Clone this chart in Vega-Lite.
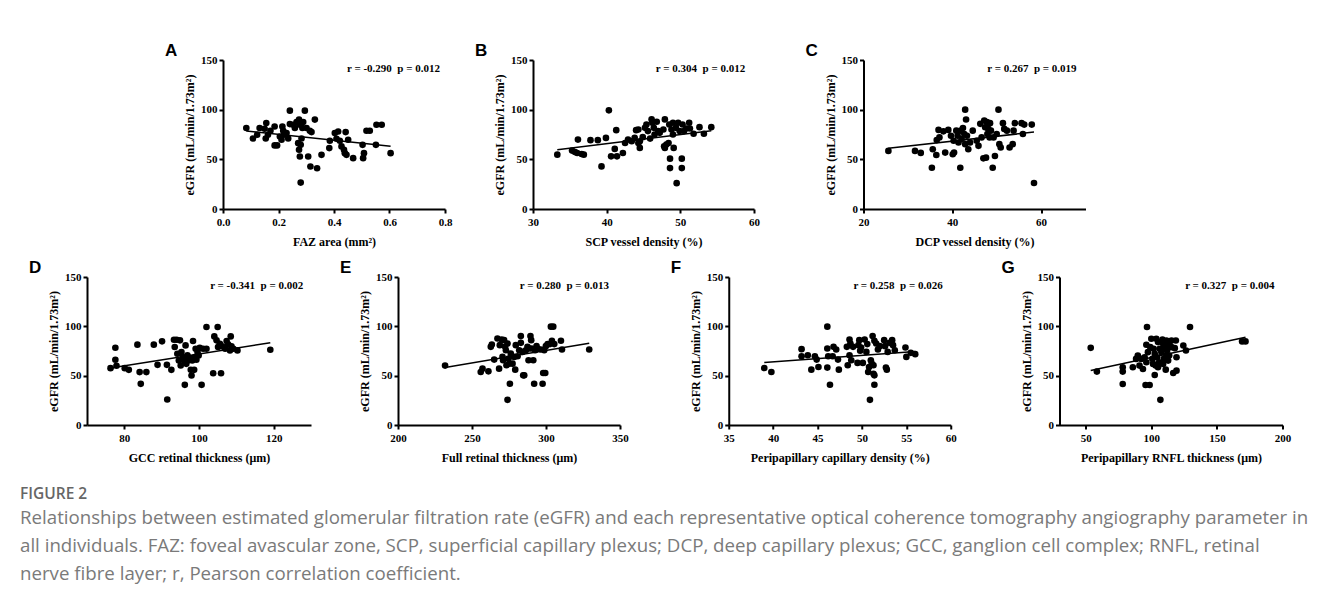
{
 "$schema": "https://vega.github.io/schema/vega-lite/v6.json",
 "autosize": {"type": "pad"},
 "padding": {"left": 20, "top": 42, "right": 5, "bottom": 5},
 "background": "white",
 "datasets": {
  "A": [{"x":0.084,"eGFR":81.5},{"x":0.108,"eGFR":71},{"x":0.123,"eGFR":74.7},{"x":0.132,"eGFR":81.5},{"x":0.150,"eGFR":80.8},{"x":0.156,"eGFR":86.5},{"x":0.154,"eGFR":71},{"x":0.162,"eGFR":74.7},{"x":0.171,"eGFR":78.8},{"x":0.186,"eGFR":83},{"x":0.186,"eGFR":64},{"x":0.195,"eGFR":64},{"x":0.205,"eGFR":73},{"x":0.211,"eGFR":69.7},{"x":0.214,"eGFR":83},{"x":0.217,"eGFR":78.8},{"x":0.220,"eGFR":74.7},{"x":0.229,"eGFR":76.4},{"x":0.235,"eGFR":71},{"x":0.241,"eGFR":85.5},{"x":0.241,"eGFR":99},{"x":0.253,"eGFR":84.8},{"x":0.259,"eGFR":81.5},{"x":0.265,"eGFR":87.5},{"x":0.274,"eGFR":90},{"x":0.277,"eGFR":84.8},{"x":0.271,"eGFR":66.3},{"x":0.274,"eGFR":59.6},{"x":0.277,"eGFR":52.9},{"x":0.280,"eGFR":64.6},{"x":0.283,"eGFR":71},{"x":0.286,"eGFR":81.5},{"x":0.289,"eGFR":87.5},{"x":0.280,"eGFR":26.6},{"x":0.295,"eGFR":99},{"x":0.301,"eGFR":81.5},{"x":0.307,"eGFR":52.9},{"x":0.313,"eGFR":78.8},{"x":0.319,"eGFR":77.4},{"x":0.315,"eGFR":42.8},{"x":0.331,"eGFR":90},{"x":0.339,"eGFR":41},{"x":0.355,"eGFR":54.5},{"x":0.383,"eGFR":61.3},{"x":0.385,"eGFR":68.7},{"x":0.403,"eGFR":76.4},{"x":0.409,"eGFR":70.7},{"x":0.415,"eGFR":78},{"x":0.421,"eGFR":68.7},{"x":0.427,"eGFR":63},{"x":0.436,"eGFR":59.6},{"x":0.439,"eGFR":56.2},{"x":0.442,"eGFR":77.4},{"x":0.445,"eGFR":54.5},{"x":0.451,"eGFR":69.7},{"x":0.469,"eGFR":51.2},{"x":0.503,"eGFR":64.6},{"x":0.505,"eGFR":51.2},{"x":0.508,"eGFR":56.2},{"x":0.517,"eGFR":78.8},{"x":0.529,"eGFR":78.8},{"x":0.551,"eGFR":64.6},{"x":0.553,"eGFR":84.8},{"x":0.572,"eGFR":84.8},{"x":0.604,"eGFR":56.2}],
  "B": [{"x":33.3,"eGFR":54.7},{"x":35.3,"eGFR":58.8},{"x":35.7,"eGFR":57.4},{"x":36.0,"eGFR":56.4},{"x":36.1,"eGFR":69.9},{"x":36.6,"eGFR":55.4},{"x":36.9,"eGFR":54.7},{"x":37.8,"eGFR":69.3},{"x":38.8,"eGFR":69.3},{"x":39.3,"eGFR":42.9},{"x":39.9,"eGFR":71.6},{"x":40.3,"eGFR":99.3},{"x":40.6,"eGFR":53},{"x":41.1,"eGFR":60.5},{"x":41.3,"eGFR":79.4},{"x":41.4,"eGFR":53},{"x":42.2,"eGFR":56.4},{"x":42.5,"eGFR":66.5},{"x":42.9,"eGFR":69.9},{"x":43.4,"eGFR":68.2},{"x":43.8,"eGFR":71.6},{"x":44.0,"eGFR":79.4},{"x":44.3,"eGFR":80},{"x":44.3,"eGFR":66.5},{"x":44.5,"eGFR":61.5},{"x":44.5,"eGFR":68.2},{"x":44.9,"eGFR":72.3},{"x":45.2,"eGFR":81.7},{"x":45.4,"eGFR":85.1},{"x":45.6,"eGFR":78.4},{"x":45.9,"eGFR":70.9},{"x":46.1,"eGFR":90.2},{"x":46.2,"eGFR":86.8},{"x":46.4,"eGFR":81.7},{"x":46.5,"eGFR":75},{"x":46.8,"eGFR":87.8},{"x":47.0,"eGFR":78.4},{"x":47.2,"eGFR":76.7},{"x":47.7,"eGFR":80},{"x":47.8,"eGFR":63.2},{"x":47.9,"eGFR":90.2},{"x":47.9,"eGFR":61.5},{"x":48.1,"eGFR":64.9},{"x":48.4,"eGFR":66.5},{"x":48.5,"eGFR":85.1},{"x":48.6,"eGFR":50.7},{"x":48.6,"eGFR":41.2},{"x":48.8,"eGFR":80},{"x":49.0,"eGFR":75},{"x":49.0,"eGFR":86.8},{"x":49.1,"eGFR":61.5},{"x":49.4,"eGFR":81.7},{"x":49.5,"eGFR":26},{"x":49.7,"eGFR":86.8},{"x":49.9,"eGFR":78.4},{"x":50.2,"eGFR":50.7},{"x":50.2,"eGFR":41.2},{"x":50.3,"eGFR":85.1},{"x":50.5,"eGFR":78.4},{"x":50.8,"eGFR":81},{"x":51.2,"eGFR":86.8},{"x":51.3,"eGFR":81},{"x":51.8,"eGFR":75.7},{"x":52.6,"eGFR":82.4},{"x":53.2,"eGFR":75.7},{"x":54.2,"eGFR":82.4}],
  "C": [{"x":25.6,"eGFR":58.5},{"x":31.6,"eGFR":58.5},{"x":32.9,"eGFR":56.5},{"x":35.4,"eGFR":41.5},{"x":35.6,"eGFR":60.2},{"x":36.4,"eGFR":54.4},{"x":36.5,"eGFR":69.4},{"x":36.9,"eGFR":79.6},{"x":37.1,"eGFR":72.1},{"x":38.0,"eGFR":78.2},{"x":38.4,"eGFR":56.8},{"x":39.1,"eGFR":79.6},{"x":39.7,"eGFR":73.8},{"x":40.1,"eGFR":55.1},{"x":40.3,"eGFR":68.7},{"x":40.4,"eGFR":56.8},{"x":40.9,"eGFR":78.9},{"x":41.2,"eGFR":73.8},{"x":41.4,"eGFR":67},{"x":41.8,"eGFR":41.5},{"x":41.9,"eGFR":78.9},{"x":42.1,"eGFR":70.4},{"x":42.4,"eGFR":81.6},{"x":42.7,"eGFR":75.5},{"x":42.9,"eGFR":100},{"x":42.9,"eGFR":65.3},{"x":43.1,"eGFR":90.1},{"x":43.3,"eGFR":73.8},{"x":43.6,"eGFR":60.2},{"x":44.0,"eGFR":67},{"x":44.6,"eGFR":78.9},{"x":45.5,"eGFR":68.7},{"x":45.9,"eGFR":63.6},{"x":46.3,"eGFR":85.7},{"x":46.6,"eGFR":72.1},{"x":47.0,"eGFR":51},{"x":47.2,"eGFR":89.1},{"x":47.4,"eGFR":82.3},{"x":47.6,"eGFR":51.7},{"x":47.8,"eGFR":87.4},{"x":47.9,"eGFR":75.5},{"x":48.1,"eGFR":80.6},{"x":48.4,"eGFR":72.1},{"x":48.5,"eGFR":86.4},{"x":48.7,"eGFR":78.9},{"x":49.1,"eGFR":41.5},{"x":49.3,"eGFR":72.1},{"x":49.6,"eGFR":53.4},{"x":50.0,"eGFR":75.5},{"x":50.4,"eGFR":100},{"x":50.6,"eGFR":65.3},{"x":50.9,"eGFR":61.9},{"x":51.4,"eGFR":86.4},{"x":51.7,"eGFR":80.6},{"x":52.3,"eGFR":78.9},{"x":52.9,"eGFR":61.9},{"x":53.6,"eGFR":65.3},{"x":53.8,"eGFR":78.9},{"x":54.1,"eGFR":86.4},{"x":55.6,"eGFR":86.4},{"x":55.9,"eGFR":75.5},{"x":56.2,"eGFR":85},{"x":57.9,"eGFR":85},{"x":58.4,"eGFR":26.2}],
  "D": [{"x":76.3,"eGFR":57.6},{"x":77.6,"eGFR":78.3},{"x":77.6,"eGFR":66.1},{"x":77.9,"eGFR":60},{"x":80.1,"eGFR":57.6},{"x":81.2,"eGFR":55.9},{"x":83.5,"eGFR":81.4},{"x":84.1,"eGFR":53.6},{"x":84.4,"eGFR":41.7},{"x":85.9,"eGFR":53.6},{"x":87.9,"eGFR":81.4},{"x":88.9,"eGFR":61},{"x":90.1,"eGFR":84.8},{"x":91.4,"eGFR":61},{"x":91.5,"eGFR":25.8},{"x":92.6,"eGFR":55.9},{"x":93.3,"eGFR":86.4},{"x":93.5,"eGFR":79},{"x":94.0,"eGFR":86.4},{"x":94.2,"eGFR":72.2},{"x":94.6,"eGFR":65.4},{"x":94.9,"eGFR":85.8},{"x":95.1,"eGFR":60.3},{"x":95.3,"eGFR":73.9},{"x":95.7,"eGFR":68.8},{"x":96.0,"eGFR":65.4},{"x":96.2,"eGFR":40.7},{"x":96.4,"eGFR":80.7},{"x":96.6,"eGFR":62},{"x":96.9,"eGFR":70.5},{"x":97.1,"eGFR":65.4},{"x":97.5,"eGFR":68.1},{"x":97.8,"eGFR":55.9},{"x":98.0,"eGFR":50.2},{"x":98.2,"eGFR":65.4},{"x":98.4,"eGFR":85.1},{"x":98.7,"eGFR":55.9},{"x":98.9,"eGFR":68.8},{"x":99.1,"eGFR":77.3},{"x":99.3,"eGFR":66.1},{"x":99.6,"eGFR":73.9},{"x":99.9,"eGFR":70.5},{"x":100.2,"eGFR":78.3},{"x":100.7,"eGFR":40.7},{"x":101.1,"eGFR":77.3},{"x":102.0,"eGFR":99.3},{"x":102.0,"eGFR":77.3},{"x":103.8,"eGFR":52.5},{"x":104.1,"eGFR":89.8},{"x":104.7,"eGFR":85.8},{"x":105.0,"eGFR":99.3},{"x":105.1,"eGFR":79},{"x":105.6,"eGFR":82.4},{"x":105.9,"eGFR":52.5},{"x":106.2,"eGFR":79.7},{"x":107.0,"eGFR":77.3},{"x":107.4,"eGFR":85.1},{"x":107.8,"eGFR":81.7},{"x":108.3,"eGFR":75.6},{"x":108.5,"eGFR":89.8},{"x":108.7,"eGFR":79.7},{"x":109.2,"eGFR":77.3},{"x":110.3,"eGFR":75.6},{"x":119.1,"eGFR":76.3}],
  "E": [{"x":231.8,"eGFR":60.2},{"x":255.9,"eGFR":53.7},{"x":257.1,"eGFR":57.1},{"x":261.1,"eGFR":54.4},{"x":262.7,"eGFR":79.2},{"x":263.4,"eGFR":81.6},{"x":265.0,"eGFR":66.3},{"x":267.2,"eGFR":87.7},{"x":268.3,"eGFR":57.1},{"x":268.8,"eGFR":80.9},{"x":270.1,"eGFR":86.7},{"x":270.6,"eGFR":69},{"x":271.0,"eGFR":65.6},{"x":271.7,"eGFR":86},{"x":272.4,"eGFR":79.2},{"x":272.9,"eGFR":75.8},{"x":273.3,"eGFR":60.5},{"x":274.0,"eGFR":25.5},{"x":274.0,"eGFR":82.6},{"x":274.7,"eGFR":67.3},{"x":275.1,"eGFR":62.2},{"x":275.6,"eGFR":41.8},{"x":276.2,"eGFR":72.4},{"x":277.4,"eGFR":62.2},{"x":278.5,"eGFR":69},{"x":279.2,"eGFR":56.1},{"x":279.6,"eGFR":80.9},{"x":280.8,"eGFR":69.7},{"x":281.9,"eGFR":75.8},{"x":283.0,"eGFR":90.1},{"x":283.0,"eGFR":83.3},{"x":284.1,"eGFR":74.1},{"x":284.6,"eGFR":50.3},{"x":285.3,"eGFR":50.3},{"x":286.4,"eGFR":75.8},{"x":287.5,"eGFR":79.2},{"x":288.2,"eGFR":65.6},{"x":288.6,"eGFR":77.5},{"x":289.5,"eGFR":90.1},{"x":290.0,"eGFR":86},{"x":290.4,"eGFR":77.5},{"x":291.4,"eGFR":65.6},{"x":292.0,"eGFR":41.8},{"x":292.7,"eGFR":75.8},{"x":293.6,"eGFR":79.9},{"x":294.3,"eGFR":77.5},{"x":296.5,"eGFR":76.5},{"x":297.7,"eGFR":41.8},{"x":298.1,"eGFR":52.7},{"x":298.8,"eGFR":75.8},{"x":299.5,"eGFR":52.7},{"x":299.9,"eGFR":79.9},{"x":301.1,"eGFR":82},{"x":302.6,"eGFR":82},{"x":303.3,"eGFR":99.7},{"x":304.0,"eGFR":85.4},{"x":304.9,"eGFR":99.7},{"x":305.6,"eGFR":82},{"x":310.1,"eGFR":85.4},{"x":310.8,"eGFR":76.5},{"x":329.2,"eGFR":76.5}],
  "F": [{"x":39.0,"eGFR":57.8},{"x":39.8,"eGFR":53.7},{"x":43.2,"eGFR":76.9},{"x":43.2,"eGFR":69.7},{"x":43.9,"eGFR":70.7},{"x":44.3,"eGFR":56.1},{"x":44.7,"eGFR":69.7},{"x":44.9,"eGFR":66.3},{"x":45.1,"eGFR":58.8},{"x":46.1,"eGFR":99.7},{"x":46.1,"eGFR":77.5},{"x":46.1,"eGFR":58.2},{"x":46.2,"eGFR":69.7},{"x":46.4,"eGFR":40.8},{"x":46.7,"eGFR":69.7},{"x":46.8,"eGFR":79.2},{"x":47.1,"eGFR":76.5},{"x":47.3,"eGFR":66.3},{"x":47.4,"eGFR":56.1},{"x":48.3,"eGFR":79.2},{"x":48.4,"eGFR":60.5},{"x":48.6,"eGFR":70.7},{"x":48.6,"eGFR":86.7},{"x":48.7,"eGFR":82.6},{"x":48.8,"eGFR":65.6},{"x":49.0,"eGFR":79.2},{"x":49.5,"eGFR":62.9},{"x":49.6,"eGFR":80.9},{"x":49.7,"eGFR":86},{"x":49.8,"eGFR":75.2},{"x":49.9,"eGFR":78.6},{"x":50.1,"eGFR":62.9},{"x":50.3,"eGFR":86.7},{"x":50.5,"eGFR":74.1},{"x":50.6,"eGFR":82},{"x":50.7,"eGFR":53.7},{"x":50.8,"eGFR":58.8},{"x":50.9,"eGFR":25.5},{"x":51.0,"eGFR":65.6},{"x":51.1,"eGFR":62.2},{"x":51.2,"eGFR":90.1},{"x":51.3,"eGFR":52},{"x":51.3,"eGFR":60.5},{"x":51.4,"eGFR":85.4},{"x":51.4,"eGFR":40.8},{"x":51.4,"eGFR":50.3},{"x":51.6,"eGFR":82.6},{"x":51.8,"eGFR":76.5},{"x":52.0,"eGFR":79.9},{"x":52.5,"eGFR":86},{"x":52.6,"eGFR":79.9},{"x":52.7,"eGFR":58.2},{"x":52.8,"eGFR":56.1},{"x":52.9,"eGFR":74.1},{"x":53.1,"eGFR":83.3},{"x":53.4,"eGFR":86},{"x":53.5,"eGFR":80.9},{"x":53.7,"eGFR":75.8},{"x":54.9,"eGFR":78.6},{"x":55.0,"eGFR":69},{"x":55.5,"eGFR":73.1},{"x":56.0,"eGFR":71.8}],
  "G": [{"x":53.8,"eGFR":78.2},{"x":58.5,"eGFR":54.1},{"x":78.2,"eGFR":58.5},{"x":78.2,"eGFR":54.1},{"x":78.2,"eGFR":41.5},{"x":85.9,"eGFR":58.5},{"x":88.4,"eGFR":67},{"x":89.7,"eGFR":70.4},{"x":91.0,"eGFR":60.2},{"x":92.3,"eGFR":67},{"x":93.6,"eGFR":56.8},{"x":94.9,"eGFR":68.7},{"x":95.6,"eGFR":40.5},{"x":96.2,"eGFR":81.3},{"x":96.2,"eGFR":63.6},{"x":96.7,"eGFR":99.3},{"x":97.4,"eGFR":73.8},{"x":98.7,"eGFR":40.5},{"x":99.2,"eGFR":78.9},{"x":100.0,"eGFR":87.4},{"x":100.8,"eGFR":67},{"x":101.3,"eGFR":61.9},{"x":101.8,"eGFR":77.2},{"x":102.6,"eGFR":50.7},{"x":102.6,"eGFR":72.1},{"x":103.3,"eGFR":60.2},{"x":103.8,"eGFR":87.4},{"x":104.4,"eGFR":68.7},{"x":105.1,"eGFR":84},{"x":105.1,"eGFR":58.5},{"x":105.9,"eGFR":63.6},{"x":106.4,"eGFR":77.2},{"x":106.9,"eGFR":25.5},{"x":107.7,"eGFR":73.8},{"x":108.5,"eGFR":86.7},{"x":109.0,"eGFR":82.3},{"x":109.0,"eGFR":61.9},{"x":109.5,"eGFR":67},{"x":110.3,"eGFR":78.9},{"x":111.0,"eGFR":56.1},{"x":111.5,"eGFR":85.7},{"x":111.5,"eGFR":70.4},{"x":112.0,"eGFR":75.5},{"x":112.8,"eGFR":80.6},{"x":112.8,"eGFR":65.3},{"x":113.6,"eGFR":70.4},{"x":114.1,"eGFR":84.7},{"x":115.4,"eGFR":78.9},{"x":115.4,"eGFR":85.7},{"x":116.7,"eGFR":52.7},{"x":117.9,"eGFR":77.9},{"x":118.7,"eGFR":85.7},{"x":119.2,"eGFR":68.7},{"x":119.2,"eGFR":55.1},{"x":124.4,"eGFR":80.6},{"x":126.4,"eGFR":75.5},{"x":129.5,"eGFR":99.3},{"x":169.2,"eGFR":84.7},{"x":171.8,"eGFR":84.7}]
 },
 "title": {
  "text": "FIGURE 2",
  "subtitle": [
   "Relationships between estimated glomerular filtration rate (eGFR) and each representative optical coherence tomography angiography parameter in",
   "all individuals. FAZ: foveal avascular zone, SCP, superficial capillary plexus; DCP, deep capillary plexus; GCC, ganglion cell complex; RNFL, retinal",
   "nerve fibre layer; r, Pearson correlation coefficient."
  ],
  "orient": "bottom",
  "anchor": "start",
  "frame": "bounds",
  "dx": -9,
  "offset": 24,
  "font": "Open Sans",
  "fontSize": 15.5,
  "fontWeight": 600,
  "color": "#666666",
  "subtitleFont": "Open Sans",
  "subtitleFontSize": 18.7,
  "subtitleFontWeight": "normal",
  "subtitleColor": "#7a7a7a",
  "subtitleLineHeight": 28,
  "subtitlePadding": 6
 },
 "config": {
  "view": {"stroke": null},
  "axis": {
   "grid": false,
   "domainColor": "black",
   "domainWidth": 2,
   "tickColor": "black",
   "tickWidth": 2,
   "tickSize": 4,
   "labelFont": "Liberation Serif",
   "labelFontWeight": "bold",
   "labelFontSize": 11,
   "labelColor": "black",
   "labelPadding": 2,
   "labelFlush": false,
   "labelOverlap": false,
   "titleFont": "Liberation Serif",
   "titleFontWeight": "bold",
   "titleFontSize": 12,
   "titleColor": "black"
  },
  "axisX": {"titlePadding": 9, "labelPadding": 3},
  "axisY": {"titlePadding": 4},
  "title": {"font": "Liberation Sans", "fontWeight": "bold", "fontSize": 17, "anchor": "start", "frame": "group", "dx": -58, "offset": -6, "color": "black"}
 },
 "spacing": 12,
 "vconcat": [
  {
   "spacing": 45.5,
   "hconcat": [
    {
     "spacing": 23,
     "hconcat": [
      {"width": 55, "height": 149, "data": {"values": []}, "mark": "point"},
      {
       "width": 222, "height": 149, "title": "A", "data": {"name": "A"},
       "layer": [
        {"mark": {"type": "circle", "size": 44, "color": "black", "opacity": 1},
         "encoding": {
          "x": {"field": "x", "type": "quantitative", "scale": {"domain": [0, 0.8], "nice": false, "zero": false}, "axis": {"values": [0, 0.2, 0.4, 0.6, 0.8], "format": ".1f", "title": "FAZ area (mm²)"}},
          "y": {"field": "eGFR", "type": "quantitative", "scale": {"domain": [0, 150], "nice": false}, "axis": {"values": [0, 50, 100, 150], "title": "eGFR (mL/min/1.73m²)"}}}},
        {"transform": [{"regression": "eGFR", "on": "x"}], "mark": {"type": "line", "color": "black", "strokeWidth": 1.5},
         "encoding": {"x": {"field": "x", "type": "quantitative"}, "y": {"field": "eGFR", "type": "quantitative"}}},
        {"data": {"values": [{}]}, "mark": {"type": "text", "align": "right", "baseline": "middle", "font": "Liberation Serif", "fontWeight": "bold", "fontSize": 11, "color": "black"},
         "encoding": {"x": {"datum": 0.782}, "y": {"datum": 141}, "text": {"value": "r = -0.290\u00a0\u00a0p = 0.012"}}}
       ]
      },
      {
       "width": 221, "height": 149, "title": "B", "data": {"name": "B"},
       "layer": [
        {"mark": {"type": "circle", "size": 44, "color": "black", "opacity": 1},
         "encoding": {
          "x": {"field": "x", "type": "quantitative", "scale": {"domain": [30, 60], "nice": false, "zero": false}, "axis": {"values": [30, 40, 50, 60], "format": "d", "title": "SCP vessel density (%)"}},
          "y": {"field": "eGFR", "type": "quantitative", "scale": {"domain": [0, 150], "nice": false}, "axis": {"values": [0, 50, 100, 150], "title": "eGFR (mL/min/1.73m²)"}}}},
        {"transform": [{"regression": "eGFR", "on": "x"}], "mark": {"type": "line", "color": "black", "strokeWidth": 1.5},
         "encoding": {"x": {"field": "x", "type": "quantitative"}, "y": {"field": "eGFR", "type": "quantitative"}}},
        {"data": {"values": [{}]}, "mark": {"type": "text", "align": "right", "baseline": "middle", "font": "Liberation Serif", "fontWeight": "bold", "fontSize": 11, "color": "black"},
         "encoding": {"x": {"datum": 58.8}, "y": {"datum": 141}, "text": {"value": "r = 0.304\u00a0\u00a0p = 0.012"}}}
       ]
      }
     ]
    },
    {
     "width": 222, "height": 149, "title": "C", "data": {"name": "C"},
     "layer": [
      {"mark": {"type": "circle", "size": 44, "color": "black", "opacity": 1},
       "encoding": {
        "x": {"field": "x", "type": "quantitative", "scale": {"domain": [20, 70], "nice": false, "zero": false}, "axis": {"values": [20, 40, 60], "format": "d", "title": "DCP vessel density (%)"}},
        "y": {"field": "eGFR", "type": "quantitative", "scale": {"domain": [0, 150], "nice": false}, "axis": {"values": [0, 50, 100, 150], "title": "eGFR (mL/min/1.73m²)"}}}},
      {"transform": [{"regression": "eGFR", "on": "x"}], "mark": {"type": "line", "color": "black", "strokeWidth": 1.5},
       "encoding": {"x": {"field": "x", "type": "quantitative"}, "y": {"field": "eGFR", "type": "quantitative"}}},
      {"data": {"values": [{}]}, "mark": {"type": "text", "align": "right", "baseline": "middle", "font": "Liberation Serif", "fontWeight": "bold", "fontSize": 11, "color": "black"},
       "encoding": {"x": {"datum": 68.0}, "y": {"datum": 141}, "text": {"value": "r = 0.267\u00a0\u00a0p = 0.019"}}}
     ]
    }
   ]
  },
  {
   "spacing": 44.5,
   "hconcat": [
    {
     "spacing": 41.75,
     "hconcat": [
      {
       "spacing": 29,
       "hconcat": [
        {
         "width": 224, "height": 148, "title": "D", "data": {"name": "D"},
         "layer": [
          {"mark": {"type": "circle", "size": 44, "color": "black", "opacity": 1},
           "encoding": {
            "x": {"field": "x", "type": "quantitative", "scale": {"domain": [70, 130], "nice": false, "zero": false}, "axis": {"values": [80, 100, 120], "format": "d", "title": "GCC retinal thickness (μm)"}},
            "y": {"field": "eGFR", "type": "quantitative", "scale": {"domain": [0, 150], "nice": false}, "axis": {"values": [0, 50, 100, 150], "title": "eGFR (mL/min/1.73m²)"}}}},
          {"transform": [{"regression": "eGFR", "on": "x"}], "mark": {"type": "line", "color": "black", "strokeWidth": 1.5},
           "encoding": {"x": {"field": "x", "type": "quantitative"}, "y": {"field": "eGFR", "type": "quantitative"}}},
          {"data": {"values": [{}]}, "mark": {"type": "text", "align": "right", "baseline": "middle", "font": "Liberation Serif", "fontWeight": "bold", "fontSize": 11, "color": "black"},
           "encoding": {"x": {"datum": 127.9}, "y": {"datum": 141}, "text": {"value": "r = -0.341\u00a0\u00a0p = 0.002"}}}
         ]
        },
        {
         "width": 222, "height": 148, "title": "E", "data": {"name": "E"},
         "layer": [
          {"mark": {"type": "circle", "size": 44, "color": "black", "opacity": 1},
           "encoding": {
            "x": {"field": "x", "type": "quantitative", "scale": {"domain": [200, 350], "nice": false, "zero": false}, "axis": {"values": [200, 250, 300, 350], "format": "d", "title": "Full retinal thickness (μm)"}},
            "y": {"field": "eGFR", "type": "quantitative", "scale": {"domain": [0, 150], "nice": false}, "axis": {"values": [0, 50, 100, 150], "title": "eGFR (mL/min/1.73m²)"}}}},
          {"transform": [{"regression": "eGFR", "on": "x"}], "mark": {"type": "line", "color": "black", "strokeWidth": 1.5},
           "encoding": {"x": {"field": "x", "type": "quantitative"}, "y": {"field": "eGFR", "type": "quantitative"}}},
          {"data": {"values": [{}]}, "mark": {"type": "text", "align": "right", "baseline": "middle", "font": "Liberation Serif", "fontWeight": "bold", "fontSize": 11, "color": "black"},
           "encoding": {"x": {"datum": 342.6}, "y": {"datum": 141}, "text": {"value": "r = 0.280\u00a0\u00a0p = 0.013"}}}
         ]
        }
       ]
      },
      {
       "width": 222, "height": 148, "title": "F", "data": {"name": "F"},
       "layer": [
        {"mark": {"type": "circle", "size": 44, "color": "black", "opacity": 1},
         "encoding": {
          "x": {"field": "x", "type": "quantitative", "scale": {"domain": [35, 60], "nice": false, "zero": false}, "axis": {"values": [35, 40, 45, 50, 55, 60], "format": "d", "title": "Peripapillary capillary density (%)"}},
          "y": {"field": "eGFR", "type": "quantitative", "scale": {"domain": [0, 150], "nice": false}, "axis": {"values": [0, 50, 100, 150], "title": "eGFR (mL/min/1.73m²)"}}}},
        {"transform": [{"regression": "eGFR", "on": "x"}], "mark": {"type": "line", "color": "black", "strokeWidth": 1.5},
         "encoding": {"x": {"field": "x", "type": "quantitative"}, "y": {"field": "eGFR", "type": "quantitative"}}},
        {"data": {"values": [{}]}, "mark": {"type": "text", "align": "right", "baseline": "middle", "font": "Liberation Serif", "fontWeight": "bold", "fontSize": 11, "color": "black"},
         "encoding": {"x": {"datum": 59.1}, "y": {"datum": 141}, "text": {"value": "r = 0.258\u00a0\u00a0p = 0.026"}}}
       ]
      }
     ]
    },
    {
     "width": 223, "height": 148, "title": "G", "data": {"name": "G"},
     "layer": [
      {"mark": {"type": "circle", "size": 44, "color": "black", "opacity": 1},
       "encoding": {
        "x": {"field": "x", "type": "quantitative", "scale": {"domain": [30, 200], "nice": false, "zero": false}, "axis": {"values": [50, 100, 150, 200], "format": "d", "title": "Peripapillary RNFL thickness (μm)"}},
        "y": {"field": "eGFR", "type": "quantitative", "scale": {"domain": [0, 150], "nice": false}, "axis": {"values": [0, 50, 100, 150], "title": "eGFR (mL/min/1.73m²)"}}}},
      {"transform": [{"regression": "eGFR", "on": "x"}], "mark": {"type": "line", "color": "black", "strokeWidth": 1.5},
       "encoding": {"x": {"field": "x", "type": "quantitative"}, "y": {"field": "eGFR", "type": "quantitative"}}},
      {"data": {"values": [{}]}, "mark": {"type": "text", "align": "right", "baseline": "middle", "font": "Liberation Serif", "fontWeight": "bold", "fontSize": 11, "color": "black"},
       "encoding": {"x": {"datum": 193.9}, "y": {"datum": 141}, "text": {"value": "r = 0.327\u00a0\u00a0p = 0.004"}}}
     ]
    }
   ]
  }
 ]
}
